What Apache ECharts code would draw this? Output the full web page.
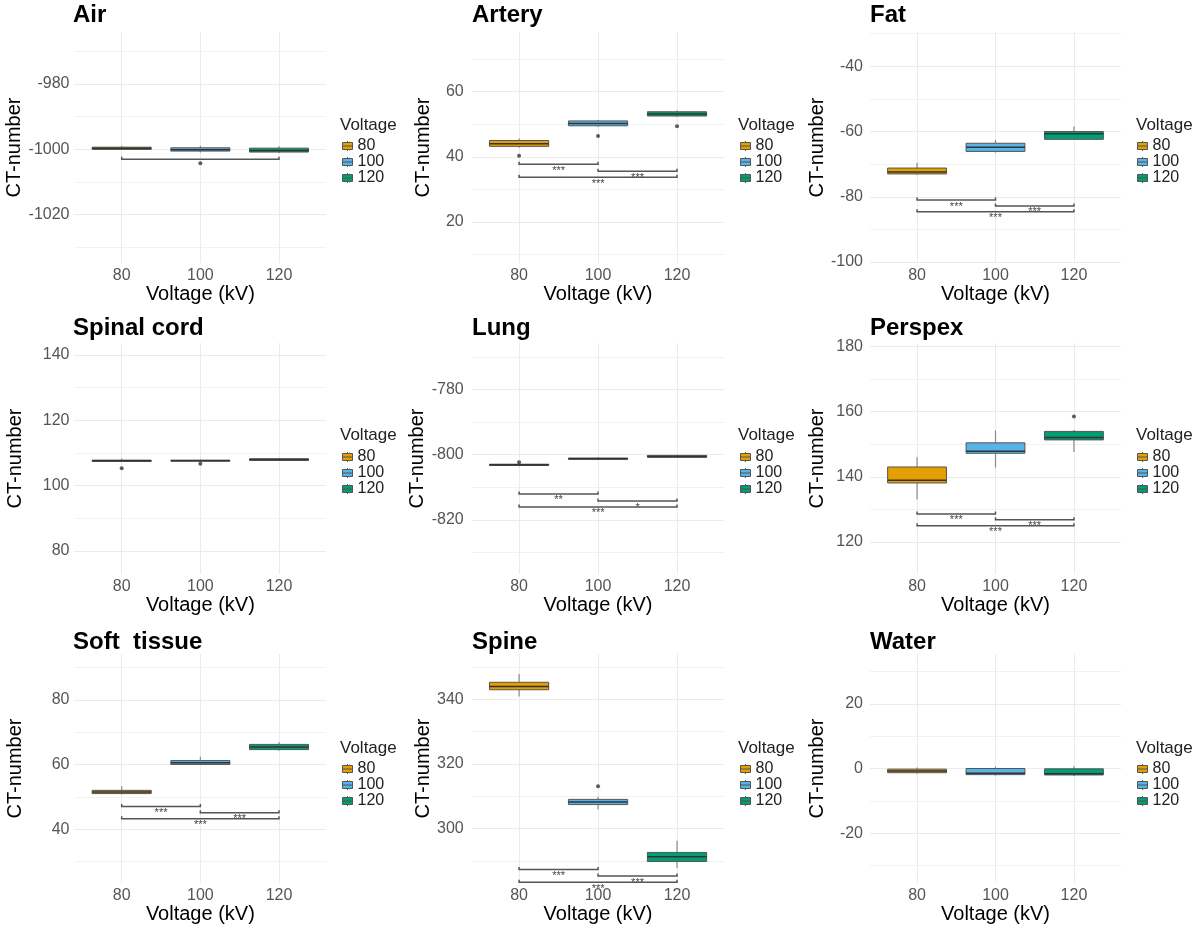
<!DOCTYPE html>
<html>
<head>
<meta charset="utf-8">
<script src="https://cdn.jsdelivr.net/npm/echarts@6/dist/echarts.min.js"></script>
<style>
html, body { margin: 0; padding: 0; background: #ffffff; }
#chart { width: 1195px; height: 934px; }
</style>
</head>
<body>
<div id="chart"></div>
<script>
// ---------------- DATA ----------------
const voltages = ['80', '100', '120'];
const panelTitles = ['Air', 'Artery', 'Fat', 'Spinal cord', 'Lung', 'Perspex', 'Soft  tissue', 'Spine', 'Water'];
const yLimits = [
  [-1034.9, -964.1], [7.45, 78.25], [-100.3, -29.5],
  [72.9, 143.7], [-836.55, -765.75], [110.2, 181.0],
  [23.35, 94.15], [283.15, 353.95], [-35.4, 35.4]
];

// box statistics per voltage (80, 100, 120): [lower whisker, Q1, median, Q3, upper whisker]
const airBoxes       = [[-1000.3, -1000.1, -999.7, -999.4, -999.0], [-1001.0, -1000.6, -1000.2, -999.6, -999.0], [-1001.2, -1000.9, -1000.4, -999.7, -999.1]];
const arteryBoxes    = [[42.8, 43.2, 44.0, 45.0, 45.6], [49.2, 49.5, 50.2, 51.0, 51.3], [52.2, 52.5, 53.1, 53.8, 54.3]];
const fatBoxes       = [[-73.3, -73.0, -72.4, -71.2, -69.6], [-66.5, -66.1, -64.8, -63.6, -62.6], [-62.6, -62.4, -60.7, -60.0, -58.5]];
const spinalBoxes    = [[107.3, 107.4, 107.6, 107.8, 108.3], [107.3, 107.5, 107.6, 107.8, 108.0], [107.5, 107.7, 108.0, 108.2, 108.4]];
const lungBoxes      = [[-803.5, -803.3, -803.1, -802.9, -802.6], [-801.5, -801.4, -801.2, -801.0, -800.8], [-801.0, -800.8, -800.5, -800.2, -800.0]];
const perspexBoxes   = [[133.0, 138.1, 138.9, 143.0, 146.0], [142.8, 147.2, 147.8, 150.4, 154.2], [147.6, 151.3, 152.0, 153.9, 154.3]];
const softBoxes      = [[50.7, 51.0, 51.5, 52.0, 53.3], [59.8, 60.0, 60.5, 61.2, 62.4], [64.2, 64.6, 65.4, 66.2, 66.9]];
const spineBoxes     = [[340.8, 342.9, 343.9, 345.2, 347.8], [305.9, 307.4, 308.2, 309.0, 309.8], [287.8, 289.8, 291.3, 292.6, 296.2]];
const waterBoxes     = [[-1.6, -1.3, -0.8, -0.2, 0.3], [-2.2, -1.9, -1.5, 0.0, 0.6], [-2.3, -2.0, -1.6, -0.1, 0.7]];

// outliers: [voltage, value]
const airOutliers     = [['100', -1004.3]];
const arteryOutliers  = [['80', 40.3], ['100', 46.4], ['120', 49.4]];
const fatOutliers     = [];
const spinalOutliers  = [['80', 105.3], ['100', 106.7]];
const lungOutliers    = [['80', -802.3]];
const perspexOutliers = [['120', 158.5]];
const softOutliers    = [];
const spineOutliers   = [['100', 313.1]];
const waterOutliers   = [];

// significance brackets: [from voltage, to voltage, y value, label]
const airBrackets     = [['80', '120', -1003.1, '']];
const arteryBrackets  = [['80', '100', 37.7, '***'], ['100', '120', 35.6, '***'], ['80', '120', 33.7, '***']];
const fatBrackets     = [['80', '100', -81.0, '***'], ['100', '120', -82.8, '***'], ['80', '120', -84.6, '***']];
const spinalBrackets  = [];
const lungBrackets    = [['80', '100', -812.0, '**'], ['100', '120', -814.2, '*'], ['80', '120', -816.0, '***']];
const perspexBrackets = [['80', '100', 128.6, '***'], ['100', '120', 126.8, '***'], ['80', '120', 125.0, '***']];
const softBrackets    = [['80', '100', 47.0, '***'], ['100', '120', 45.1, '***'], ['80', '120', 43.2, '***']];
const spineBrackets   = [['80', '100', 287.3, '***'], ['100', '120', 285.3, '***'], ['80', '120', 283.4, '***']];
const waterBrackets   = [];

const boxStats = [airBoxes, arteryBoxes, fatBoxes, spinalBoxes, lungBoxes, perspexBoxes, softBoxes, spineBoxes, waterBoxes];
const outlierSets = [airOutliers, arteryOutliers, fatOutliers, spinalOutliers, lungOutliers, perspexOutliers, softOutliers, spineOutliers, waterOutliers];
const bracketSets = [airBrackets, arteryBrackets, fatBrackets, spinalBrackets, lungBrackets, perspexBrackets, softBrackets, spineBrackets, waterBrackets];

// ---------------- STYLE / LAYOUT ----------------
const colors = ['#E69F00', '#56B4E9', '#009E73'];
const FONT = '"Liberation Sans", Arial, Helvetica, sans-serif';
const colLeft = [74.5, 471.7, 870];
const colWidth = [251.7, 252.7, 251];
const rowTop = [32, 343, 654];
const rowHeight = [231, 231, 229];
const yLabelMargin = [5, 8, 7];
const yNameGap = [49, 38, 43];
const titleLeft = [73, 472, 870];
const titleTop = [3, 316, 630];
const voltTitleLeft = [340, 738, 1136];
const voltTitleTop = [117, 427, 740];
const legendLeft = [342, 740, 1137];
const legendTop = [138, 449, 761];
const BOX_HALF = 0.375;

const keyIcon = 'path://M0,1.5H10V8.5H0Z M0,5H10 M5,0V1.5 M5,8.5V10';

function xPos(v) { return voltages.indexOf(v) + 1; }

function renderBox(params, api) {
  const x = api.value(0);
  const lo = api.value(1), q1 = api.value(2), med = api.value(3), q3 = api.value(4), hi = api.value(5);
  const tl = api.coord([x - BOX_HALF, q3]);
  const br = api.coord([x + BOX_HALF, q1]);
  const pHi = api.coord([x, hi]);
  const pLo = api.coord([x, lo]);
  const mL = api.coord([x - BOX_HALF, med]);
  const mR = api.coord([x + BOX_HALF, med]);
  const color = api.visual('color');
  return {
    type: 'group',
    children: [
      { type: 'line', shape: { x1: pHi[0], y1: pHi[1], x2: pHi[0], y2: tl[1] }, style: { stroke: '#8a8a8a', lineWidth: 1.2 } },
      { type: 'line', shape: { x1: pLo[0], y1: br[1], x2: pLo[0], y2: pLo[1] }, style: { stroke: '#8a8a8a', lineWidth: 1.2 } },
      { type: 'rect', shape: { x: tl[0], y: tl[1], width: br[0] - tl[0], height: Math.max(br[1] - tl[1], 0.5) },
        style: { fill: color, stroke: '#555555', lineWidth: 1 } },
      { type: 'line', shape: { x1: mL[0], y1: mL[1], x2: mR[0], y2: mR[1] }, style: { stroke: '#333333', lineWidth: 1.5 } }
    ]
  };
}

function makeBracketRenderer(list) {
  return function (params, api) {
    const a = api.coord([api.value(0), api.value(2)]);
    const b = api.coord([api.value(1), api.value(2)]);
    const tip = 2.5;
    return {
      type: 'group',
      children: [
        { type: 'polyline', shape: { points: [[a[0], a[1] - tip], [a[0], a[1]], [b[0], b[1]], [b[0], b[1] - tip]] },
          style: { stroke: '#555555', lineWidth: 1.5, fill: null } },
        { type: 'text', x: (a[0] + b[0]) / 2, y: a[1] + 1,
          style: { text: list[params.dataIndex][3], fill: '#444444', fontSize: 11, fontFamily: FONT, align: 'center', verticalAlign: 'top' } }
      ]
    };
  };
}

const grids = [], xAxes = [], yAxes = [], series = [], titles = [], legends = [];

for (let p = 0; p < 9; p++) {
  const col = p % 3, row = Math.floor(p / 3);
  grids.push({ left: colLeft[col], top: rowTop[row], width: colWidth[col], height: rowHeight[row], containLabel: false });
  xAxes.push({
    type: 'value', gridIndex: p, min: 0.4, max: 3.6, minInterval: 1, maxInterval: 1,
    axisLine: { show: false }, axisTick: { show: false },
    axisLabel: {
      showMinLabel: false, showMaxLabel: false, fontSize: 16, color: '#555555', margin: 5, fontFamily: FONT,
      formatter: function (v) { return (Math.abs(v - Math.round(v)) < 1e-6 && v >= 1 && v <= 3) ? voltages[Math.round(v) - 1] : ''; }
    },
    splitLine: { show: true, showMinLine: false, showMaxLine: false, lineStyle: { color: '#ebebeb', width: 1 } },
    name: 'Voltage (kV)', nameLocation: 'middle', nameGap: 20,
    nameTextStyle: { fontSize: 20, color: '#000000', fontFamily: FONT }
  });
  yAxes.push({
    type: 'value', gridIndex: p, min: yLimits[p][0], max: yLimits[p][1], minInterval: 20, maxInterval: 20,
    axisLine: { show: false }, axisTick: { show: false },
    axisLabel: {
      showMinLabel: false, showMaxLabel: false, fontSize: 16, color: '#555555', margin: yLabelMargin[col], fontFamily: FONT,
      formatter: function (v) { return Math.abs(v / 20 - Math.round(v / 20)) < 1e-6 ? String(Math.round(v)) : ''; }
    },
    splitLine: { show: true, showMinLine: false, showMaxLine: false, lineStyle: { color: '#ebebeb', width: 1 } },
    minorTick: { show: false, splitNumber: 2 },
    minorSplitLine: { show: true, lineStyle: { color: '#f2f2f2', width: 1 } },
    name: 'CT-number', nameLocation: 'middle', nameGap: yNameGap[col],
    nameTextStyle: { fontSize: 20, color: '#000000', fontFamily: FONT }
  });

  for (let i = 0; i < 3; i++) {
    series.push({
      type: 'custom', name: voltages[i], xAxisIndex: p, yAxisIndex: p,
      itemStyle: { color: colors[i] },
      renderItem: renderBox,
      encode: { x: 0, y: [1, 2, 3, 4, 5] },
      data: [[i + 1].concat(boxStats[p][i])],
      z: 2, silent: true
    });
  }
  series.push({
    type: 'scatter', name: 'outlier', xAxisIndex: p, yAxisIndex: p,
    data: outlierSets[p].map(function (o) { return [xPos(o[0]), o[1]]; }),
    symbolSize: 4, itemStyle: { color: '#333333' }, z: 3, silent: true
  });
  const bl = bracketSets[p];
  series.push({
    type: 'custom', name: 'signif', xAxisIndex: p, yAxisIndex: p,
    renderItem: makeBracketRenderer(bl),
    encode: { x: [0, 1], y: 2 },
    data: bl.map(function (b) { return [xPos(b[0]), xPos(b[1]), b[2]]; }),
    z: 4, silent: true
  });

  titles.push({
    text: panelTitles[p], left: titleLeft[col], top: titleTop[row], padding: 0,
    textStyle: { fontSize: 24, fontWeight: 'bold', color: '#000000', fontFamily: FONT }
  });
  titles.push({
    text: 'Voltage', left: voltTitleLeft[col], top: voltTitleTop[row], padding: 0,
    textStyle: { fontSize: 17, fontWeight: 'normal', color: '#222222', fontFamily: FONT }
  });
  legends.push({
    data: voltages, orient: 'vertical', left: legendLeft[col], top: legendTop[row], padding: 0,
    itemWidth: 10, itemHeight: 10, itemGap: 0, icon: keyIcon, selectedMode: false,
    itemStyle: { borderColor: '#555555', borderWidth: 1 },
    textStyle: { fontSize: 16, lineHeight: 14.5, color: '#222222', fontFamily: FONT }
  });
}

const chart = echarts.init(document.getElementById('chart'), null, { renderer: 'canvas' });
chart.setOption({
  backgroundColor: '#ffffff',
  animation: false,
  textStyle: { fontFamily: FONT },
  title: titles,
  legend: legends,
  grid: grids,
  xAxis: xAxes,
  yAxis: yAxes,
  series: series
});
</script>
</body>
</html>
